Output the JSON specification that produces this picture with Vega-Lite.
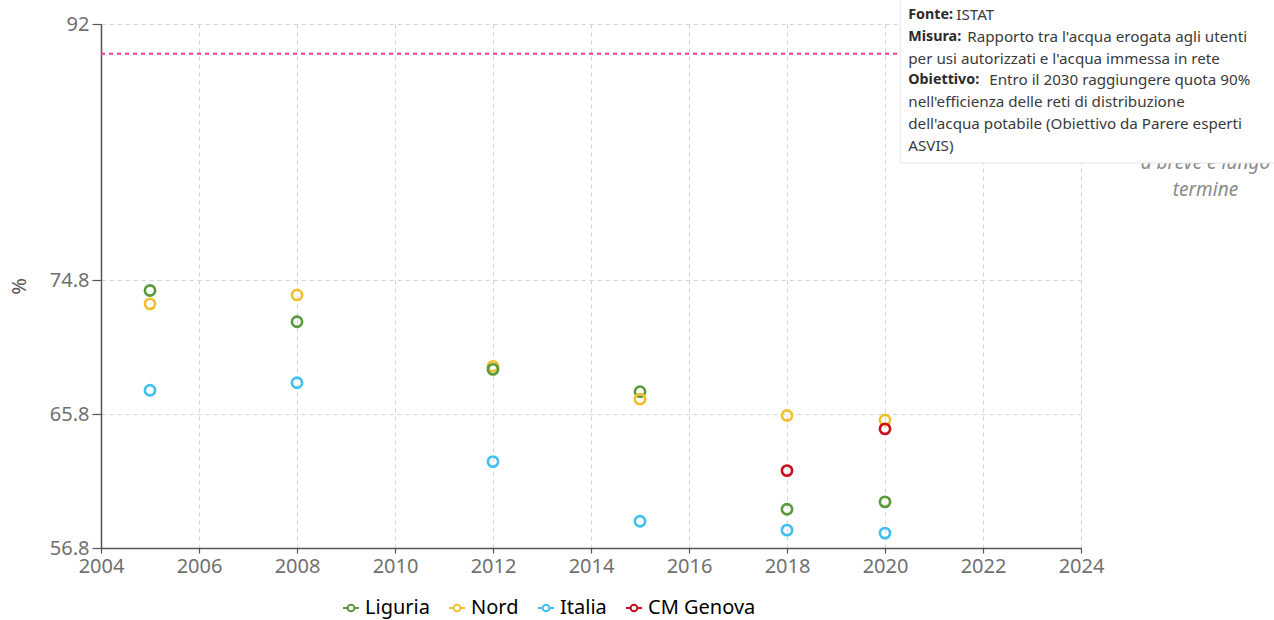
{
  "$schema": "https://vega.github.io/schema/vega-lite/v6.json",
  "width": 980,
  "height": 524,
  "autosize": {"type": "none"},
  "padding": {"left": 101, "top": 24, "right": 193, "bottom": 72},
  "background": "white",
  "config": {
    "view": {"stroke": null},
    "font": "Noto Sans",
    "axis": {
      "labelFont": "Noto Sans",
      "labelFontSize": 20,
      "labelColor": "#707070",
      "domainColor": "#555555",
      "domainWidth": 1.5,
      "tickColor": "#555555",
      "tickWidth": 1.2,
      "gridColor": "#d2d2d2",
      "gridDash": [4, 4],
      "gridWidth": 1
    }
  },
  "layer": [
    {
      "data": {
        "values": [
          {"anno": 2005, "territorio": "Liguria", "valore": 74.1},
          {"anno": 2005, "territorio": "Nord", "valore": 73.2},
          {"anno": 2005, "territorio": "Italia", "valore": 67.4},
          {"anno": 2008, "territorio": "Nord", "valore": 73.8},
          {"anno": 2008, "territorio": "Liguria", "valore": 72.0},
          {"anno": 2008, "territorio": "Italia", "valore": 67.9},
          {"anno": 2012, "territorio": "Nord", "valore": 69.0},
          {"anno": 2012, "territorio": "Liguria", "valore": 68.8},
          {"anno": 2012, "territorio": "Italia", "valore": 62.6},
          {"anno": 2015, "territorio": "Liguria", "valore": 67.3},
          {"anno": 2015, "territorio": "Nord", "valore": 66.8},
          {"anno": 2015, "territorio": "Italia", "valore": 58.6},
          {"anno": 2018, "territorio": "Nord", "valore": 65.7},
          {"anno": 2018, "territorio": "CM Genova", "valore": 62.0},
          {"anno": 2018, "territorio": "Liguria", "valore": 59.4},
          {"anno": 2018, "territorio": "Italia", "valore": 58.0},
          {"anno": 2020, "territorio": "Nord", "valore": 65.4},
          {"anno": 2020, "territorio": "CM Genova", "valore": 64.8},
          {"anno": 2020, "territorio": "Liguria", "valore": 59.9},
          {"anno": 2020, "territorio": "Italia", "valore": 57.8}
        ]
      },
      "mark": {"type": "point", "shape": "circle", "filled": false, "size": 105, "strokeWidth": 2.6, "opacity": 1},
      "encoding": {
        "x": {
          "field": "anno",
          "type": "quantitative",
          "scale": {"domain": [2004, 2024], "nice": false, "zero": false},
          "axis": {
            "values": [2004, 2006, 2008, 2010, 2012, 2014, 2016, 2018, 2020, 2022, 2024],
            "format": "d",
            "title": null,
            "tickSize": 5,
            "labelPadding": 3,
            "labelFlush": false,
            "labelOverlap": false
          }
        },
        "y": {
          "field": "valore",
          "type": "quantitative",
          "scale": {"domain": [56.8, 92], "nice": false, "zero": false},
          "axis": {
            "values": [56.8, 65.8, 74.8, 92],
            "format": ".1~f",
            "title": "%",
            "titleFont": "Noto Sans",
            "titleFontSize": 20,
            "titleFontWeight": "normal",
            "titleColor": "#555555",
            "titlePadding": 20,
            "tickSize": 9,
            "labelPadding": 3,
            "labelFlush": false,
            "labelOverlap": false
          }
        },
        "color": {
          "field": "territorio",
          "type": "nominal",
          "scale": {
            "domain": ["Liguria", "Nord", "Italia", "CM Genova"],
            "range": ["#5a9a3c", "#f0c030", "#40c0f0", "#c8101e"]
          },
          "legend": {
            "title": null,
            "orient": "none",
            "direction": "horizontal",
            "legendX": 240,
            "legendY": 574,
            "symbolType": "M-1,0L-0.42,0M0.42,0L1,0M-0.42,0A0.42,0.42,0,1,1,0.42,0A0.42,0.42,0,1,1,-0.42,0",
            "symbolSize": 256,
            "symbolStrokeWidth": 2,
            "symbolFillColor": "transparent",
            "labelFont": "Noto Sans",
            "labelFontSize": 20,
            "labelOffset": 4,
            "columnPadding": 15,
            "encode": {
              "labels": {"update": {"fill": {"scale": "color", "field": "value"}}}
            }
          }
        }
      }
    },
    {
      "data": {"values": [{"obiettivo": 90}]},
      "mark": {"type": "rule", "stroke": "#e03c9e", "strokeWidth": 2, "strokeDash": [4, 4]},
      "encoding": {
        "y": {"field": "obiettivo", "type": "quantitative"}
      }
    },
    {
      "data": {"values": [{}]},
      "mark": {
        "type": "text",
        "text": ["a breve e lungo", "termine"],
        "lineHeight": 27,
        "font": "Noto Sans",
        "fontStyle": "italic",
        "fontSize": 19,
        "color": "#8a8a8a",
        "align": "center",
        "baseline": "middle"
      },
      "encoding": {
        "x": {"datum": 2026.54, "type": "quantitative"},
        "y": {"datum": 82.66, "type": "quantitative"}
      }
    },
    {
      "data": {"values": [{}]},
      "mark": {"type": "rect", "fill": "white", "stroke": "#e4e4e4", "strokeWidth": 1},
      "encoding": {
        "x": {"datum": 2020.31, "type": "quantitative"},
        "x2": {"datum": 2030},
        "y": {"datum": 94.2, "type": "quantitative"},
        "y2": {"datum": 82.66}
      }
    },
    {
      "data": {"values": [{"t": "Fonte:", "y": 92.605}, {"t": "Misura:", "y": 91.14}, {"t": "Obiettivo:", "y": 88.211}]},
      "mark": {"type": "text", "font": "Noto Sans", "fontSize": 14.3, "fontWeight": "bold", "color": "#2a2a2a", "align": "left", "baseline": "middle"},
      "encoding": {
        "x": {"datum": 2020.475, "type": "quantitative"},
        "y": {"field": "y", "type": "quantitative"},
        "text": {"field": "t"}
      }
    },
    {
      "data": {"values": [
        {"t": "per usi autorizzati e l'acqua immessa in rete", "y": 89.676},
        {"t": "nell'efficienza delle reti di distribuzione", "y": 86.747},
        {"t": "dell'acqua potabile (Obiettivo da Parere esperti", "y": 85.283},
        {"t": "ASVIS)", "y": 83.818}
      ]},
      "mark": {"type": "text", "font": "Noto Sans", "fontSize": 15.2, "color": "#3a3a3a", "align": "left", "baseline": "middle"},
      "encoding": {
        "x": {"datum": 2020.475, "type": "quantitative"},
        "y": {"field": "y", "type": "quantitative"},
        "text": {"field": "t"}
      }
    },
    {
      "data": {"values": [{"t": "ISTAT", "y": 92.605}]},
      "mark": {"type": "text", "font": "Noto Sans", "fontSize": 15.2, "color": "#3a3a3a", "align": "left", "baseline": "middle", "dx": 48},
      "encoding": {
        "x": {"datum": 2020.475, "type": "quantitative"},
        "y": {"field": "y", "type": "quantitative"},
        "text": {"field": "t"}
      }
    },
    {
      "data": {"values": [{"t": "Rapporto tra l'acqua erogata agli utenti", "y": 91.14}]},
      "mark": {"type": "text", "font": "Noto Sans", "fontSize": 15.2, "color": "#3a3a3a", "align": "left", "baseline": "middle", "dx": 59},
      "encoding": {
        "x": {"datum": 2020.475, "type": "quantitative"},
        "y": {"field": "y", "type": "quantitative"},
        "text": {"field": "t"}
      }
    },
    {
      "data": {"values": [{"t": "Entro il 2030 raggiungere quota 90%", "y": 88.211}]},
      "mark": {"type": "text", "font": "Noto Sans", "fontSize": 15.2, "color": "#3a3a3a", "align": "left", "baseline": "middle", "dx": 81},
      "encoding": {
        "x": {"datum": 2020.475, "type": "quantitative"},
        "y": {"field": "y", "type": "quantitative"},
        "text": {"field": "t"}
      }
    }
  ]
}
